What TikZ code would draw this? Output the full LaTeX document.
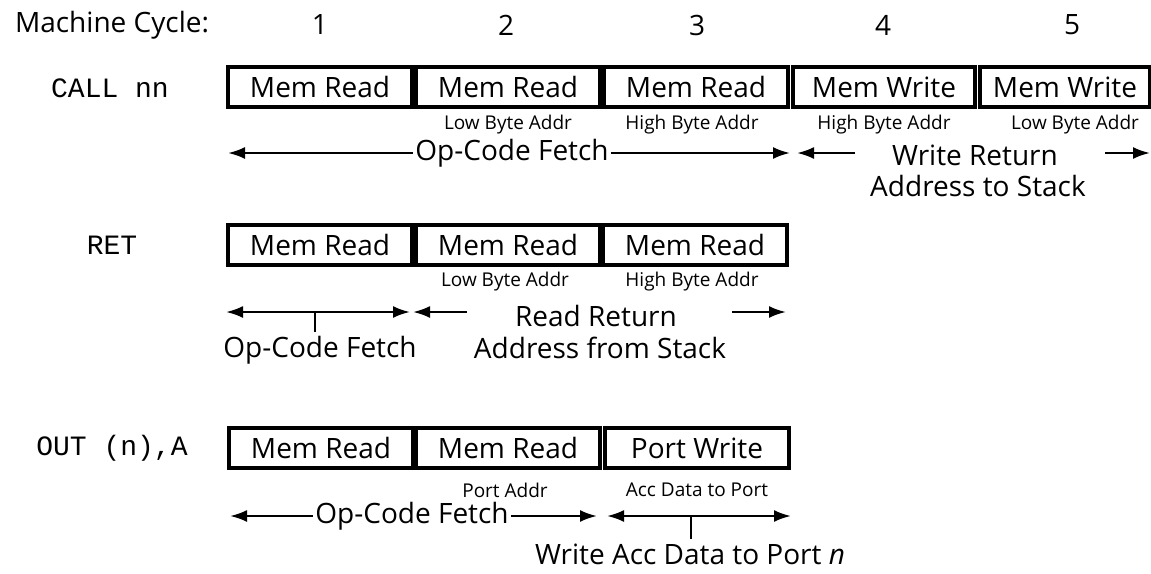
\documentclass[tikz,border=0pt]{standalone}
\usepackage{fontspec}
\setmainfont{Open Sans}
\setmonofont{Liberation Mono}
\usetikzlibrary{arrows.meta}
\begin{document}
\begin{tikzpicture}[x=0.5pt, y=-0.5pt, >={Latex[length=8.5pt, width=6pt]},
  font=\fontsize{14}{17}\selectfont,
  cyc/.style={draw, line width=1.6pt, minimum width=92pt, minimum height=20pt, inner sep=0pt},
  addr/.style={font=\fontsize{9.5}{11}\selectfont, inner sep=1pt},
  instr/.style={font=\ttfamily\fontsize{14}{17}\selectfont},
  txt/.style={inner xsep=1pt, inner ysep=2pt},
  span/.style={line width=1.2pt}]
\useasboundingbox (0,0) rectangle (1151,573);
\node[anchor=west] (mc) at (8,25) {Machine Cycle:};
\foreach \x [count=\k] in {320,506,697,883,1072} \node (n\k) at (\x,25) {\k};
% CALL nn
\node[instr] (call) at (110,88) {CALL nn};
\node[cyc] (a1) at (320,87) {Mem Read};
\node[cyc] (a2) at (508,87) {Mem Read};
\node[cyc] (a3) at (696,87) {Mem Read};
\node[cyc, minimum width=91pt] (a4) at (884,87) {Mem Write};
\node[cyc, minimum width=85pt] (a5) at (1065,87) {Mem Write};
\foreach \x/\t [count=\k] in {508/Low Byte Addr, 692/High Byte Addr, 884/High Byte Addr, 1075/Low Byte Addr}
  \node[addr] (la\k) at (\x,125) {\t};
\node[txt] (af) at (512,153) {Op-Code Fetch};
\coordinate (afl) at (228,153); \coordinate (afr) at (790,153);
\draw[span,->] (af) -- (afl);
\draw[span,->] (af) -- (afr);
\node[txt] (aw1) at (975,155) {Write Return};
\node[txt] (aw2) at (978,186) {Address to Stack};
\coordinate (awa) at (855,153); \coordinate (awb) at (797,153);
\coordinate (awc) at (1105,153); \coordinate (awd) at (1150,153);
\draw[span,->] (awa) -- (awb);
\draw[span,->] (awc) -- (awd);
% RET
\node[instr] (ret) at (112,245) {RET};
\node[cyc] (b1) at (320,245) {Mem Read};
\node[cyc] (b2) at (508,245) {Mem Read};
\node[cyc] (b3) at (695,245) {Mem Read};
\node[addr] (lb1) at (505,282) {Low Byte Addr};
\node[addr] (lb2) at (692,282) {High Byte Addr};
\coordinate (bl) at (226,312); \coordinate (br) at (410,312); \coordinate (bt) at (315,312);
\draw[span,<->] (bl) -- (br);
\node[txt] (bf) at (320,350) {Op-Code Fetch};
\draw[span] (bt) -- (bt |- bf.north);
\node[txt] (bw1) at (596,316) {Read Return};
\node[txt] (bw2) at (600,348) {Address from Stack};
\coordinate (bwa) at (467,312); \coordinate (bwb) at (413,312);
\coordinate (bwc) at (732,312); \coordinate (bwd) at (786,312);
\draw[span,->] (bwa) -- (bwb);
\draw[span,->] (bwc) -- (bwd);
% OUT (n),A
\node[instr] (out) at (112,448) {OUT (n),A};
\node[cyc] (c1) at (321,448) {Mem Read};
\node[cyc] (c2) at (508,448) {Mem Read};
\node[cyc] (c3) at (697,448) {Port Write};
\node[addr] (lc1) at (505,490) {Port Addr};
\node[addr] (lc2) at (697,490) {Acc Data to Port};
\node[txt] (cf) at (412,516) {Op-Code Fetch};
\coordinate (cfl) at (230,516); \coordinate (cfr) at (597,516);
\draw[span,->] (cf) -- (cfl);
\draw[span,->] (cf) -- (cfr);
\coordinate (cl) at (607,516); \coordinate (cr) at (791,516); \coordinate (ct) at (691,516);
\draw[span,<->] (cl) -- (cr);
\node[txt] (cw) at (690,554) {Write Acc Data to Port \textit{n}};
\draw[span] (ct) -- (ct |- cw.north);
\end{tikzpicture}
\end{document}
